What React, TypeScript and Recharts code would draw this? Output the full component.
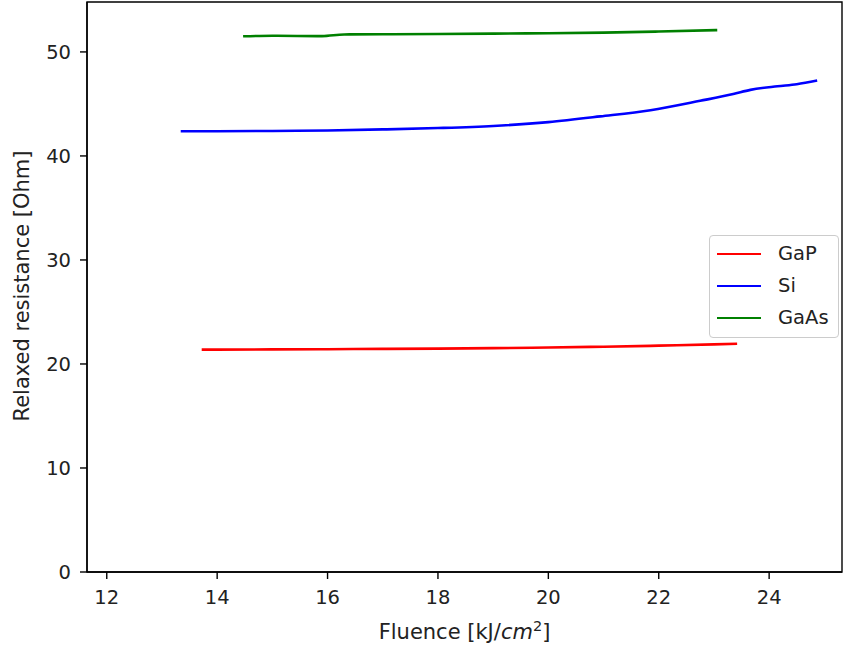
import React from "react";
import { LineChart, Line, XAxis, YAxis, ReferenceArea } from "recharts";

const gapX = [13.72, 15, 16, 17, 18, 19, 20, 21, 22, 23, 23.42];
const gapY = [21.38, 21.4, 21.42, 21.45, 21.48, 21.52, 21.58, 21.66, 21.76, 21.88, 21.95];

const siX = [13.34, 14, 15, 16, 17, 18, 19, 20, 20.94, 21.85, 22.75, 23.35, 23.66, 24.15, 24.5, 24.87];
const siY = [42.37, 42.38, 42.4, 42.45, 42.55, 42.68, 42.88, 43.25, 43.8, 44.4, 45.3, 45.95, 46.35, 46.7, 46.9, 47.25];

const gaasX = [14.47, 15, 15.9, 16.3, 17, 18, 19, 20, 21, 22, 23.06];
const gaasY = [51.5, 51.55, 51.52, 51.68, 51.7, 51.72, 51.76, 51.8, 51.86, 51.96, 52.1];

const xTicks = [12, 14, 16, 18, 20, 22, 24];
const yTicks = [0, 10, 20, 30, 40, 50];
const xDomain = [11.642, 25.32];
const yDomain = [0, 54.8];

const seriesNames = ["GaP", "Si", "GaAs"];
const seriesColors = ["#ff0000", "#0000ff", "#008000"];

const zip = (xs: number[], ys: number[]) => xs.map((x, i) => ({ x, y: ys[i] }));
const seriesData = [zip(gapX, gapY), zip(siX, siY), zip(gaasX, gaasY)];

const FONT = "DejaVu Sans";
const TXT = "#222";
const TICK_FS = 19.5;
const LABEL_FS = 21;

const XLabel = (props: any) => {
  const vb = props.viewBox || {};
  const cx = vb.x + vb.width / 2;
  const y = vb.y + 67;
  return (
    <text x={cx} y={y} textAnchor="middle" fontFamily={FONT} fontSize={LABEL_FS} fill={TXT}>
      <tspan>Fluence [kJ/</tspan>
      <tspan fontStyle="italic">cm</tspan>
      <tspan fontSize={14.5} dy={-8}>2</tspan>
      <tspan dy={8}>]</tspan>
    </text>
  );
};

const YLabel = (props: any) => {
  const vb = props.viewBox || {};
  const cy = vb.y + vb.height / 2 - 1;
  const x = 29;
  return (
    <text x={x} y={cy} textAnchor="middle" fontFamily={FONT} fontSize={LABEL_FS} fill={TXT} transform={`rotate(-90, ${x}, ${cy})`}>
      Relaxed resistance [Ohm]
    </text>
  );
};

const LegendBox = () => (
  <div
    style={{
      position: "absolute",
      left: 709,
      top: 235,
      width: 130,
      height: 103,
      border: "1px solid #cccccc",
      borderRadius: 4,
      background: "rgba(255,255,255,0.8)",
      boxSizing: "border-box",
      paddingTop: 2,
      fontFamily: FONT,
      fontSize: TICK_FS,
      color: TXT,
    }}
  >
    {seriesNames.map((n, i) => (
      <div key={n} style={{ display: "flex", alignItems: "center", height: 32 }}>
        <div style={{ marginLeft: 7, width: 44, height: 2.6, background: seriesColors[i] }} />
        <div style={{ marginLeft: 17, lineHeight: "22px" }}>{n}</div>
      </div>
    ))}
  </div>
);

export default function App() {
  return (
    <div style={{ position: "absolute", left: 0, top: 0, width: 843, height: 648, background: "#fff" }}>
      <LineChart width={843} height={648} margin={{ top: 2, right: 1, left: 0, bottom: 0 }}>
        <XAxis
          xAxisId="b"
          type="number"
          dataKey="x"
          domain={xDomain}
          ticks={xTicks}
          allowDataOverflow
          height={76}
          stroke="#000"
          strokeWidth={1.4}
          tickSize={7}
          tickMargin={11}
          tick={{ fontFamily: FONT, fontSize: TICK_FS, fill: TXT }}
          tickFormatter={(v: number) => String(v)}
          label={{ content: <XLabel /> } as any}
        />
        <YAxis
          yAxisId="l"
          type="number"
          domain={yDomain}
          ticks={yTicks}
          allowDataOverflow
          width={87}
          stroke="#000"
          strokeWidth={1.4}
          tickSize={7}
          tickMargin={9}
          tick={{ fontFamily: FONT, fontSize: TICK_FS, fill: TXT }}
          label={{ content: <YLabel /> } as any}
        />
        <ReferenceArea
          xAxisId="b"
          yAxisId="l"
          x1={xDomain[0]}
          x2={xDomain[1]}
          y1={yDomain[0]}
          y2={yDomain[1]}
          fill="none"
          fillOpacity={0}
          stroke="#000"
          strokeWidth={1.4}
          strokeOpacity={1}
        />
        {seriesData.map((d, i) => (
          <Line
            key={seriesNames[i]}
            xAxisId="b"
            yAxisId="l"
            data={d}
            dataKey="y"
            name={seriesNames[i]}
            type="monotone"
            stroke={seriesColors[i]}
            strokeWidth={2.6}
            dot={false}
            activeDot={false}
            isAnimationActive={false}
          />
        ))}
      </LineChart>
      <LegendBox />
    </div>
  );
}
